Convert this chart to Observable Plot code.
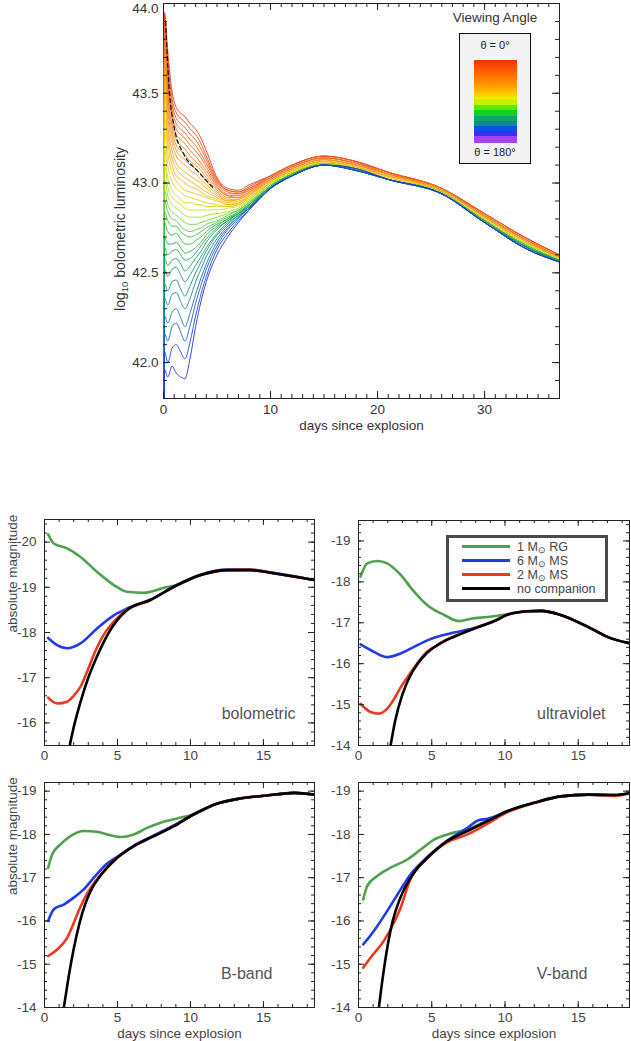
<!DOCTYPE html>
<html><head><meta charset="utf-8">
<script src="https://cdn.jsdelivr.net/npm/d3@7"></script>
<script src="https://cdn.jsdelivr.net/npm/@observablehq/plot@0.6"></script>
<style>
body{margin:0;background:#fff;font-family:"Liberation Sans",Arial,Helvetica,sans-serif;color:#333;}
#wrap{position:relative;width:631px;height:1041px;overflow:hidden;background:#fff;}
.panel{position:absolute;}
.panel svg{overflow:visible;}
.ylab-top{position:absolute;left:0;top:220px;width:240px;height:18px;line-height:18px;text-align:center;
  font-size:14px;color:#333;transform:rotate(-90deg);transform-origin:120px 9px;white-space:nowrap;}
.ylab-top sub{font-size:9.5px;line-height:0;vertical-align:-3px;}
.va-title{position:absolute;left:443px;top:10px;width:104px;text-align:center;font-size:13.5px;color:#333;}
.va-box{position:absolute;left:459px;top:33px;width:70px;height:129px;border:1px solid #111;background:#f2f2f2;}
.va-lab{position:absolute;left:0;width:100%;text-align:center;font-size:11px;color:#222;}
.va-bar{position:absolute;left:14px;top:26px;width:43px;height:83px;
background:linear-gradient(to bottom,#f0320a 0%,#ff5e00 14%,#ff9200 28%,#ffc400 40%,#f2ee00 47%,
#c4f000 47%,#c4f000 54%,#5ee800 54%,#5ee800 60%,#18cc28 60%,#18cc28 67%,#10a468 67%,#10a468 74%,
#0e8896 74%,#0e8896 80%,#0a52e4 80%,#0a52e4 86%,#3a2ef2 86%,#3a2ef2 92%,#a443f2 92%,#a443f2 100%);}
.lg-box{position:absolute;left:446px;top:535px;width:156px;height:61px;border:3px solid #4a4a4a;background:#fff;}
.lg-row{position:absolute;left:13px;height:14px;font-size:12.5px;line-height:14px;color:#444;white-space:nowrap;}
.lg-line{position:absolute;left:0;top:5px;width:48px;height:3px;}
.lg-text{position:absolute;left:55px;top:0;}
.lg-text sub{font-size:8.5px;line-height:0;vertical-align:-2px;}
</style></head>
<body><div id="wrap">
<div class="ylab-top">log<sub>10</sub> bolometric luminosity</div>
<div class="va-title">Viewing Angle</div>
<div class="va-box">
  <div class="va-lab" style="top:5px">θ = 0°</div>
  <div class="va-bar"></div>
  <div class="va-lab" style="top:112px">θ = 180°</div>
</div>
</div>
<script>
// ---------- top panel: log10 bolometric luminosity vs days, one curve per viewing angle ----------
const days = [0, 0.1, 0.4, 0.8, 1.2, 1.6, 2.0, 2.5, 3.0, 3.5, 4.0, 5, 6, 7, 8, 10, 12, 15, 18, 21, 26, 30, 34, 37];
const thetas = [14.4, 25.0, 32.5, 38.6, 44.0, 49.0, 53.6, 57.9, 62.0, 66.0, 69.9, 73.7, 77.4, 81.0, 84.6, 88.2,
                91.8, 95.4, 99.0, 102.6, 106.3, 110.1, 114.0, 118.0, 122.1, 126.4, 131.0, 136.0, 141.4, 147.5, 155.0, 165.6];
const logL = [
 [40.5,43.95,43.73,43.51,43.42,43.39,43.37,43.33,43.30,43.25,43.18,43.03,42.97,42.96,42.99,43.04,43.10,43.15,43.12,43.06,42.97,42.83,42.69,42.60],
 [40.5,43.93,43.68,43.47,43.39,43.36,43.34,43.30,43.27,43.22,43.15,43.02,42.96,42.95,42.98,43.04,43.10,43.15,43.12,43.06,42.97,42.83,42.69,42.60],
 [40.5,43.90,43.64,43.44,43.36,43.33,43.31,43.27,43.24,43.19,43.13,43.01,42.96,42.95,42.97,43.04,43.10,43.15,43.12,43.06,42.97,42.83,42.69,42.60],
 [40.5,43.87,43.60,43.41,43.33,43.30,43.28,43.24,43.21,43.16,43.11,43.00,42.95,42.94,42.97,43.03,43.09,43.14,43.11,43.06,42.97,42.82,42.68,42.59],
 [40.5,43.84,43.56,43.38,43.30,43.27,43.25,43.21,43.18,43.14,43.09,42.99,42.94,42.94,42.96,43.03,43.09,43.14,43.11,43.05,42.97,42.82,42.68,42.59],
 [40.5,43.80,43.53,43.35,43.27,43.24,43.22,43.18,43.15,43.11,43.07,42.98,42.93,42.93,42.96,43.03,43.09,43.14,43.11,43.05,42.97,42.82,42.68,42.59],
 [40.5,43.76,43.49,43.32,43.24,43.21,43.19,43.15,43.12,43.09,43.05,42.97,42.93,42.92,42.95,43.02,43.08,43.13,43.10,43.05,42.96,42.82,42.68,42.59],
 [40.5,43.72,43.45,43.29,43.21,43.18,43.16,43.12,43.10,43.07,43.03,42.96,42.92,42.92,42.95,43.02,43.08,43.13,43.10,43.05,42.96,42.81,42.67,42.59],
 [40.5,43.67,43.41,43.26,43.18,43.15,43.13,43.10,43.08,43.05,43.01,42.95,42.91,42.91,42.94,43.02,43.08,43.13,43.10,43.04,42.96,42.81,42.67,42.58],
 [40.5,43.62,43.37,43.22,43.15,43.12,43.10,43.07,43.05,43.02,42.99,42.94,42.90,42.91,42.94,43.01,43.07,43.12,43.09,43.04,42.96,42.81,42.67,42.58],
 [40.5,43.56,43.32,43.18,43.11,43.08,43.06,43.04,43.02,43.00,42.97,42.93,42.90,42.90,42.93,43.01,43.07,43.12,43.09,43.04,42.96,42.81,42.67,42.58],
 [40.5,43.50,43.28,43.14,43.08,43.05,43.03,43.01,42.99,42.97,42.95,42.92,42.89,42.89,42.93,43.01,43.07,43.12,43.09,43.04,42.95,42.80,42.66,42.58],
 [40.5,43.44,43.23,43.10,43.04,43.02,43.00,42.98,42.97,42.95,42.93,42.91,42.88,42.89,42.92,43.00,43.06,43.12,43.09,43.03,42.95,42.80,42.66,42.58],
 [40.5,43.37,43.17,43.06,43.01,42.98,42.96,42.95,42.94,42.93,42.92,42.90,42.88,42.88,42.92,43.00,43.06,43.11,43.08,43.03,42.95,42.80,42.66,42.58],
 [40.5,43.30,43.10,43.01,42.97,42.95,42.93,42.92,42.91,42.90,42.89,42.88,42.87,42.88,42.91,43.00,43.06,43.11,43.08,43.03,42.95,42.80,42.66,42.58],
 [40.5,43.20,43.03,42.96,42.93,42.91,42.89,42.89,42.88,42.88,42.87,42.87,42.87,42.88,42.91,43.00,43.06,43.11,43.08,43.02,42.95,42.80,42.66,42.58],
 [40.5,43.10,42.98,42.92,42.90,42.88,42.86,42.85,42.85,42.85,42.85,42.85,42.86,42.87,42.90,42.99,43.05,43.11,43.08,43.02,42.95,42.79,42.65,42.57],
 [40.5,43.02,42.93,42.88,42.86,42.84,42.82,42.81,42.81,42.81,42.82,42.83,42.84,42.86,42.90,42.99,43.05,43.11,43.08,43.02,42.95,42.79,42.65,42.57],
 [40.5,42.96,42.88,42.84,42.82,42.80,42.78,42.77,42.77,42.78,42.79,42.81,42.83,42.85,42.89,42.99,43.05,43.11,43.08,43.02,42.95,42.79,42.65,42.57],
 [40.5,42.90,42.84,42.80,42.79,42.76,42.74,42.73,42.74,42.75,42.77,42.79,42.82,42.85,42.89,42.98,43.05,43.10,43.08,43.02,42.94,42.79,42.65,42.57],
 [40.5,42.84,42.79,42.76,42.76,42.73,42.71,42.70,42.71,42.73,42.75,42.78,42.81,42.84,42.88,42.98,43.05,43.10,43.08,43.02,42.94,42.79,42.65,42.57],
 [40.5,42.78,42.73,42.71,42.72,42.69,42.66,42.66,42.68,42.70,42.73,42.77,42.80,42.84,42.88,42.98,43.05,43.10,43.08,43.02,42.94,42.79,42.64,42.57],
 [40.5,42.70,42.66,42.66,42.67,42.64,42.61,42.62,42.64,42.67,42.71,42.76,42.80,42.83,42.88,42.98,43.05,43.10,43.08,43.02,42.94,42.79,42.64,42.57],
 [40.5,42.64,42.60,42.62,42.63,42.60,42.57,42.58,42.61,42.65,42.69,42.75,42.79,42.83,42.87,42.98,43.04,43.10,43.07,43.02,42.94,42.79,42.64,42.57],
 [40.5,42.58,42.54,42.57,42.58,42.55,42.51,42.54,42.58,42.62,42.67,42.74,42.79,42.83,42.87,42.98,43.04,43.10,43.07,43.02,42.94,42.78,42.64,42.56],
 [40.5,42.52,42.48,42.52,42.53,42.49,42.45,42.49,42.54,42.59,42.64,42.72,42.78,42.82,42.87,42.97,43.04,43.10,43.07,43.02,42.94,42.78,42.64,42.56],
 [40.5,42.44,42.40,42.45,42.46,42.41,42.37,42.43,42.50,42.56,42.62,42.71,42.77,42.82,42.86,42.97,43.04,43.10,43.07,43.02,42.94,42.78,42.64,42.56],
 [40.5,42.36,42.32,42.38,42.39,42.34,42.30,42.36,42.45,42.52,42.59,42.69,42.76,42.81,42.86,42.97,43.04,43.10,43.07,43.02,42.94,42.78,42.64,42.56],
 [40.5,42.26,42.22,42.28,42.30,42.25,42.20,42.28,42.38,42.47,42.55,42.67,42.75,42.81,42.86,42.97,43.04,43.10,43.07,43.02,42.94,42.78,42.63,42.56],
 [40.5,42.16,42.12,42.20,42.22,42.17,42.12,42.21,42.33,42.43,42.52,42.65,42.74,42.80,42.86,42.97,43.04,43.10,43.07,43.02,42.94,42.78,42.63,42.56],
 [40.5,42.06,42.00,42.08,42.10,42.06,42.02,42.12,42.26,42.38,42.48,42.63,42.72,42.79,42.85,42.97,43.04,43.10,43.07,43.02,42.94,42.78,42.63,42.56],
 [40.5,41.96,41.92,41.98,41.94,41.92,41.91,42.03,42.20,42.34,42.45,42.60,42.70,42.78,42.85,42.97,43.04,43.10,43.08,43.02,42.94,42.78,42.63,42.56]
];
const dashDays = [0.2, 0.5, 1.0, 1.9, 3.15, 4.7];
const dashLogL = [43.9, 43.55, 43.31, 43.16, 43.07, 42.97];
const topXTicks = [0, 10, 20, 30];
const topYTicks = [42.0, 42.5, 43.0, 43.5, 44.0];
const thetaStops = [0, 45, 80, 92, 105, 120, 135, 150, 165, 180];
const thetaColors = ["#e8251a", "#f2641a", "#f5c21c", "#c2e41c", "#3cc43c", "#1aa55a", "#12888e", "#1a58d8", "#2a30e0", "#8a3ef0"];

// ---------- bottom panels: absolute magnitude vs days ----------
const models = ["1 M☉ RG", "6 M☉ MS", "2 M☉ MS", "no companion"];
const modelColors = ["#4ea24e", "#1f3ce8", "#ea3a1e", "#000000"];

const boloRG_t   = [0.25, 0.64, 1.55, 2.47, 3.6, 4.75, 5.66, 6.8, 8.2, 9.1, 10.7, 12.5, 14.1, 15.7, 18.5];
const boloRG_m   = [-20.17, -19.97, -19.86, -19.67, -19.34, -19.05, -18.9, -18.88, -18.99, -19.05, -19.27, -19.38, -19.38, -19.31, -19.16];
const boloMS6_t  = [0.25, 0.87, 1.55, 2.47, 3.6, 4.75, 5.66, 7.26, 9.1, 10.7, 12.5, 14.1, 15.7, 18.5];
const boloMS6_m  = [-17.88, -17.72, -17.65, -17.76, -18.09, -18.38, -18.53, -18.73, -19.06, -19.28, -19.39, -19.39, -19.32, -19.16];
const boloMS2_t  = [0.25, 0.87, 1.55, 2.0, 2.47, 3.0, 3.5, 4.0, 4.5, 5.0, 5.66, 7.26, 9.1, 10.7, 12.5, 14.1, 15.7, 18.5];
const boloMS2_m  = [-16.56, -16.43, -16.47, -16.6, -16.8, -17.2, -17.6, -17.92, -18.15, -18.32, -18.5, -18.72, -19.05, -19.27, -19.38, -19.39, -19.31, -19.16];
const boloNone_t = [1.5, 1.73, 2.0, 2.5, 3.0, 3.5, 4.0, 4.5, 5.0, 5.66, 7.26, 9.1, 10.7, 12.5, 14.1, 15.7, 18.5];
const boloNone_m = [-15.1, -15.5, -15.9, -16.5, -17.0, -17.4, -17.75, -18.05, -18.28, -18.5, -18.72, -19.05, -19.27, -19.38, -19.38, -19.31, -19.16];

const uvRG_t   = [0.14, 0.6, 1.28, 1.96, 2.88, 3.79, 4.7, 5.85, 6.87, 7.67, 8.8, 10.2, 11.55, 12.47, 13.8, 15.66, 17.03, 18.6];
const uvRG_m   = [-18.13, -18.45, -18.51, -18.45, -18.17, -17.76, -17.43, -17.19, -17.04, -17.1, -17.14, -17.21, -17.28, -17.29, -17.19, -16.9, -16.65, -16.49];
const uvMS6_t  = [0.14, 1.05, 1.96, 2.88, 3.79, 4.7, 5.6, 6.53, 7.9, 9.27, 10.2, 11.55, 12.47, 13.8, 15.66, 17.03, 18.6];
const uvMS6_m  = [-16.47, -16.29, -16.16, -16.25, -16.41, -16.57, -16.68, -16.76, -16.87, -17.05, -17.2, -17.28, -17.29, -17.19, -16.9, -16.65, -16.49];
const uvMS2_t  = [0.14, 0.82, 1.39, 1.96, 2.5, 2.88, 3.4, 3.79, 4.25, 4.7, 5.39, 6.53, 7.9, 9.27, 10.2, 11.55, 12.47, 13.8, 15.66, 17.03, 18.6];
const uvMS2_m  = [-15.02, -14.82, -14.78, -14.9, -15.18, -15.42, -15.7, -15.9, -16.12, -16.3, -16.45, -16.67, -16.86, -17.04, -17.2, -17.28, -17.29, -17.19, -16.9, -16.65, -16.49];
const uvNone_t = [2.0, 2.19, 2.5, 3.0, 3.5, 4.0, 4.5, 5.16, 6.0, 6.53, 7.9, 9.27, 10.2, 11.55, 12.47, 13.8, 15.66, 17.03, 18.6];
const uvNone_m = [-13.6, -14.0, -14.6, -15.25, -15.68, -15.98, -16.2, -16.4, -16.58, -16.66, -16.86, -17.04, -17.2, -17.28, -17.29, -17.19, -16.9, -16.65, -16.49];

const bRG_t   = [0.25, 0.53, 1.1, 1.78, 2.69, 3.6, 4.29, 5.2, 6.12, 7.03, 7.95, 9.09, 10.2, 11.8, 13.4, 15.25, 17.1, 18.5];
const bRG_m   = [-17.23, -17.54, -17.77, -17.96, -18.08, -18.06, -18.0, -17.94, -18.0, -18.15, -18.27, -18.37, -18.46, -18.71, -18.83, -18.9, -18.96, -18.92];
const bMS6_t  = [0.25, 0.64, 1.32, 2.0, 2.69, 3.38, 4.29, 4.98, 6.12, 7.49, 8.86, 10.2, 11.8, 13.4, 15.25, 17.1, 18.5];
const bMS6_m  = [-16.0, -16.27, -16.38, -16.54, -16.73, -17.0, -17.33, -17.48, -17.74, -17.98, -18.21, -18.46, -18.71, -18.83, -18.9, -18.96, -18.92];
const bMS2_t  = [0.25, 0.87, 1.55, 2.0, 2.4, 2.92, 3.6, 4.29, 4.98, 6.12, 7.49, 8.86, 10.2, 11.8, 13.4, 15.25, 17.1, 18.5];
const bMS2_m  = [-15.19, -15.34, -15.61, -15.95, -16.28, -16.63, -16.96, -17.22, -17.46, -17.73, -17.96, -18.19, -18.46, -18.71, -18.83, -18.9, -18.96, -18.92];
const bNone_t = [1.1, 1.32, 1.7, 2.0, 2.4, 2.8, 3.2, 3.84, 4.98, 6.12, 7.49, 8.86, 10.2, 11.8, 13.4, 15.25, 17.1, 18.5];
const bNone_m = [-13.6, -14.0, -14.8, -15.35, -15.95, -16.4, -16.72, -17.05, -17.46, -17.73, -17.96, -18.19, -18.46, -18.71, -18.83, -18.9, -18.96, -18.92];

const vRG_t   = [0.32, 0.6, 1.28, 2.19, 3.33, 4.25, 5.16, 6.07, 6.99, 7.44, 8.82, 10.2, 12.0, 13.8, 15.7, 17.5, 18.6];
const vRG_m   = [-16.5, -16.81, -17.04, -17.23, -17.42, -17.65, -17.88, -18.0, -18.08, -18.12, -18.33, -18.54, -18.73, -18.88, -18.92, -18.91, -18.96];
const vMS6_t  = [0.32, 1.05, 1.96, 2.88, 3.56, 4.7, 6.07, 7.44, 8.2, 8.82, 10.2, 12.0, 13.8, 15.7, 17.5, 18.6];
const vMS6_m  = [-15.46, -15.77, -16.23, -16.73, -17.08, -17.48, -17.86, -18.15, -18.33, -18.36, -18.54, -18.73, -18.88, -18.92, -18.91, -18.96];
const vMS2_t  = [0.32, 0.82, 1.73, 2.42, 2.88, 3.56, 4.7, 6.07, 7.44, 8.82, 10.2, 12.0, 13.8, 15.7, 17.5, 18.6];
const vMS2_m  = [-14.92, -15.15, -15.54, -15.96, -16.31, -16.98, -17.45, -17.82, -18.0, -18.25, -18.52, -18.73, -18.88, -18.92, -18.89, -18.96];
const vNone_t = [1.2, 1.39, 1.7, 2.0, 2.3, 2.65, 3.1, 3.56, 4.1, 4.7, 6.07, 7.44, 8.82, 10.2, 12.0, 13.8, 15.7, 17.5, 18.6];
const vNone_m = [-13.5, -14.0, -14.8, -15.45, -15.95, -16.35, -16.72, -17.0, -17.25, -17.46, -17.85, -18.08, -18.31, -18.54, -18.73, -18.88, -18.92, -18.91, -18.96];

const magXTicks = [0, 5, 10, 15];
const boloYTicks = [-20, -19, -18, -17, -16];
const uvYTicks = [-19, -18, -17, -16, -15, -14];
const bvYTicks = [-19, -18, -17, -16, -15, -14];

// ---------- rendering ----------
const FONT = '"Liberation Sans", Arial, Helvetica, sans-serif';
const wrap = document.getElementById("wrap");

function place(svg, left, top) {
  const d = document.createElement("div");
  d.className = "panel";
  d.style.left = left + "px";
  d.style.top = top + "px";
  d.appendChild(svg);
  wrap.appendChild(d);
}

// inward ticks on all four edges, drawn with rules on the plot's own scales
function edgeTicks(xs, ys, pw, ph, len) {
  const s = {stroke: "#222", strokeWidth: 1};
  return [
    Plot.ruleX(xs, {x: d => d, insetTop: ph - len, ...s}),
    Plot.ruleX(xs, {x: d => d, insetBottom: ph - len, ...s}),
    Plot.ruleY(ys, {y: d => d, insetRight: pw - len, ...s}),
    Plot.ruleY(ys, {y: d => d, insetLeft: pw - len, ...s})
  ];
}

// top panel
{
  const width = 631, height = 440, mL = 163, mR = 72, mT = 3, mB = 42;
  const pw = width - mL - mR, ph = height - mT - mB;
  const rows = [];
  logL.forEach((vals, j) => vals.forEach((v, i) => rows.push({t: days[i], L: v, theta: thetas[j], j})));
  const dash = dashDays.map((t, i) => ({t, L: dashLogL[i]}));
  const svg = Plot.plot({
    width, height, marginLeft: mL, marginRight: mR, marginTop: mT, marginBottom: mB,
    style: {fontFamily: FONT, fontSize: "13.5px", color: "#333", background: "transparent", overflow: "visible"},
    x: {domain: [0, 37]},
    y: {domain: [41.8, 44.0]},
    color: {type: "linear", domain: thetaStops, range: thetaColors},
    marks: [
      Plot.frame({stroke: "#222"}),
      Plot.line(rows, {x: "t", y: "L", z: "j", stroke: "theta", strokeWidth: 0.9, curve: "monotone-x", clip: true}),
      Plot.line(dash, {x: "t", y: "L", stroke: "#111", strokeWidth: 1.2, strokeDasharray: "4,3", curve: "monotone-x"}),
      ...edgeTicks(d3.range(0, 38, 1), d3.range(41.8, 44.01, 0.1), pw, ph, 4),
      ...edgeTicks(topXTicks, topYTicks, pw, ph, 7),
      Plot.axisX({ticks: topXTicks, tickSize: 0, tickPadding: 6, label: null}),
      Plot.axisY({ticks: topYTicks.slice(0, 4), tickSize: 0, tickPadding: 5, tickFormat: d3.format(".1f"), label: null}),
      Plot.axisY({ticks: topYTicks.slice(4), tickSize: 0, tickPadding: 5, tickFormat: d3.format(".1f"), label: null, dy: 5}),
      Plot.text(["days since explosion"], {frameAnchor: "bottom", dy: 27, text: d => d, lineAnchor: "middle", fontSize: 13.5, fill: "#333"})
    ]
  });
  place(svg, 0, 0);
}

function magPanel(cfg) {
  const {left, top, width, height, mL, mR, mT, mB, ydom, yTicks, series, name, nameDx, nameDy, xLabel, yLabel} = cfg;
  const pw = width - mL - mR, ph = height - mT - mB;
  const rows = [];
  series.forEach(([model, ts, ms]) => ts.forEach((t, i) => rows.push({t, m: ms[i], model})));
  const marks = [
    Plot.frame({stroke: "#222"}),
    Plot.line(rows, {x: "t", y: "m", z: "model", stroke: "model", strokeWidth: 2.6, curve: "monotone-x", clip: true}),
    ...edgeTicks(d3.range(0, 19, 1), d3.range(Math.ceil(Math.min(...ydom) * 5) / 5, Math.max(...ydom) + 0.001, 0.2), pw, ph, 3),
    ...edgeTicks(magXTicks, yTicks, pw, ph, 6),
    Plot.axisX({ticks: magXTicks, tickSize: 0, tickPadding: 5, label: null}),
    Plot.axisY({ticks: yTicks, tickSize: 0, tickPadding: 8, tickFormat: d => String(d), label: null}),
    Plot.text([name], {frameAnchor: "bottom-right", dx: nameDx, dy: nameDy, text: d => d, textAnchor: "end", lineAnchor: "middle", fontSize: 16, fill: "#555"})
  ];
  if (xLabel) marks.push(Plot.text(["days since explosion"], {frameAnchor: "bottom", dy: 26, text: d => d, lineAnchor: "middle", fontSize: 13.5, fill: "#444"}));
  if (yLabel) marks.push(Plot.text(["absolute magnitude"], {frameAnchor: "left", dx: -32, rotate: -90, text: d => d, lineAnchor: "middle", fontSize: 13.5, fill: "#444"}));
  const svg = Plot.plot({
    width, height, marginLeft: mL, marginRight: mR, marginTop: mT, marginBottom: mB,
    style: {fontFamily: FONT, fontSize: "13.5px", color: "#444", background: "transparent", overflow: "visible"},
    x: {domain: [0, 18.5]},
    y: {domain: ydom},
    color: {type: "ordinal", domain: models, range: modelColors},
    marks
  });
  place(svg, left, top);
}

magPanel({left: 0, top: 480, width: 320, height: 285, mL: 44, mR: 6, mT: 39, mB: 20,
  ydom: [-15.5, -20.5], yTicks: boloYTicks, name: "bolometric", nameDx: -19, nameDy: -32, xLabel: false, yLabel: true,
  series: [[models[0], boloRG_t, boloRG_m], [models[1], boloMS6_t, boloMS6_m], [models[2], boloMS2_t, boloMS2_m], [models[3], boloNone_t, boloNone_m]]});
magPanel({left: 314, top: 480, width: 317, height: 285, mL: 44, mR: 2, mT: 40, mB: 20,
  ydom: [-14, -19.5], yTicks: uvYTicks, name: "ultraviolet", nameDx: -24, nameDy: -32, xLabel: false, yLabel: false,
  series: [[models[0], uvRG_t, uvRG_m], [models[1], uvMS6_t, uvMS6_m], [models[2], uvMS2_t, uvMS2_m], [models[3], uvNone_t, uvNone_m]]});
magPanel({left: 0, top: 760, width: 320, height: 281, mL: 44, mR: 6, mT: 22, mB: 34,
  ydom: [-14, -19.2], yTicks: bvYTicks, name: "B-band", nameDx: -42, nameDy: -34, xLabel: true, yLabel: true,
  series: [[models[0], bRG_t, bRG_m], [models[1], bMS6_t, bMS6_m], [models[2], bMS2_t, bMS2_m], [models[3], bNone_t, bNone_m]]});
magPanel({left: 314, top: 760, width: 317, height: 281, mL: 44, mR: 2, mT: 22, mB: 34,
  ydom: [-14, -19.2], yTicks: bvYTicks, name: "V-band", nameDx: -42, nameDy: -34, xLabel: true, yLabel: false,
  series: [[models[0], vRG_t, vRG_m], [models[1], vMS6_t, vMS6_m], [models[2], vMS2_t, vMS2_m], [models[3], vNone_t, vNone_m]]});

// legend for the companion models (HTML overlay, colours from the same arrays)
{
  const box = document.createElement("div");
  box.className = "lg-box";
  const labels = ["1 M<sub>⊙</sub> RG", "6 M<sub>⊙</sub> MS", "2 M<sub>⊙</sub> MS", "no companion"];
  models.forEach((m, i) => {
    const r = document.createElement("div");
    r.className = "lg-row";
    r.style.top = (2 + i * 14) + "px";
    r.innerHTML = `<div class="lg-line" style="background:${modelColors[i]}"></div><div class="lg-text">${labels[i]}</div>`;
    box.appendChild(r);
  });
  wrap.appendChild(box);
}
</script>
</body></html>
